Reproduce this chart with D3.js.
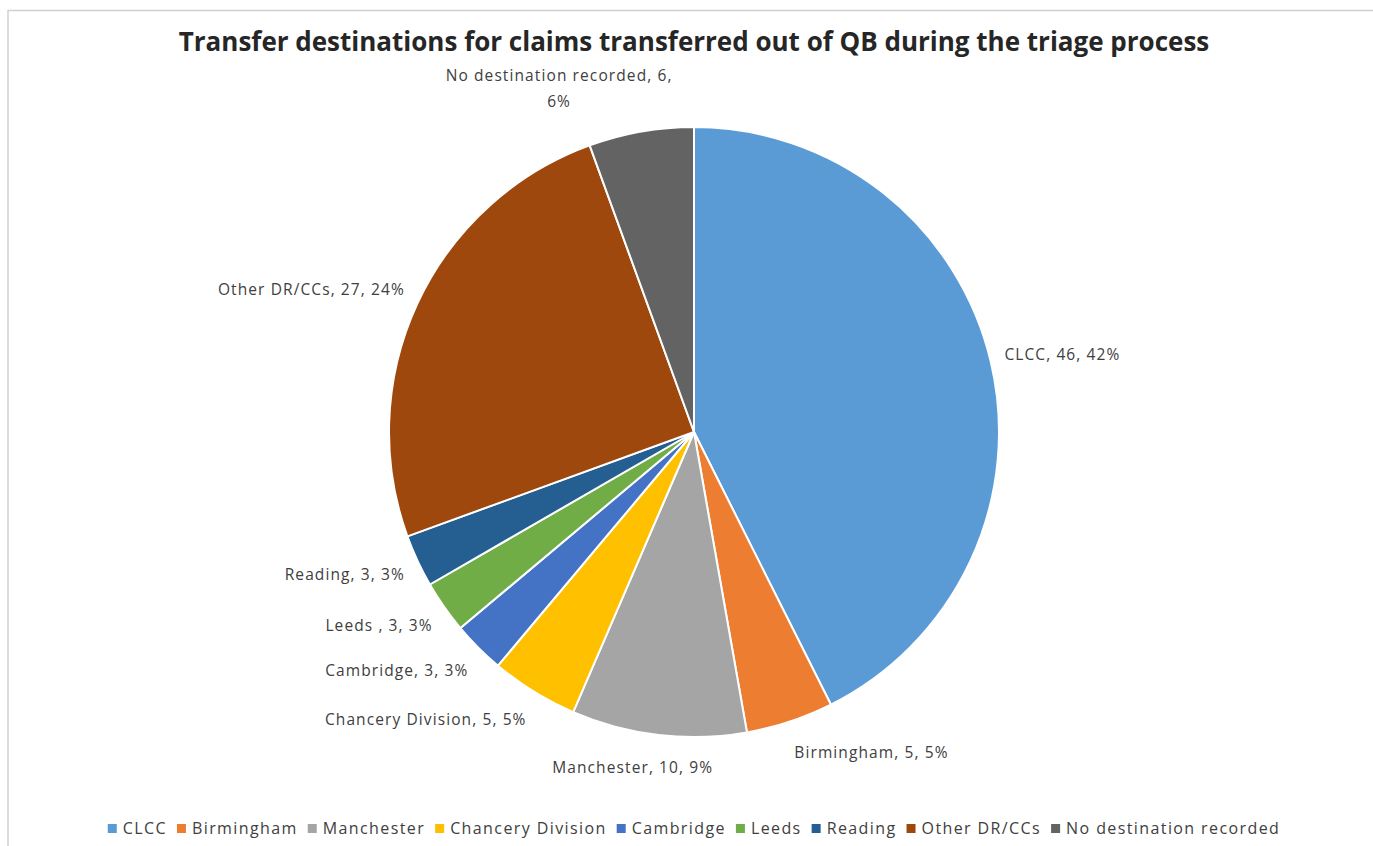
<!doctype html>
<html>
<head>
<meta charset="UTF-8">
<title>Transfer destinations</title>
<script src="https://d3js.org/d3.v7.min.js"></script>
<style>
  body { margin: 0; background: #fff; }
  text { font-family: "Open Sans", sans-serif; fill: #404040; }
</style>
</head>
<body>
<svg id="chart" width="1373" height="846"></svg>
<script>
// data
var categories = ["CLCC", "Birmingham", "Manchester", "Chancery Division", "Cambridge",
                  "Leeds ", "Reading", "Other DR/CCs", "No destination recorded"];
var values = [46, 5, 10, 5, 3, 3, 3, 27, 6];
var percents = ["42%", "5%", "9%", "5%", "3%", "3%", "3%", "24%", "6%"];
var legendNames = ["CLCC", "Birmingham", "Manchester", "Chancery Division", "Cambridge",
                   "Leeds", "Reading", "Other DR/CCs", "No destination recorded"];
var colors = ["#5b9bd5", "#ed7d31", "#a5a5a5", "#ffc000", "#4472c4",
              "#70ad47", "#255e91", "#9e480e", "#636363"];

var svg = d3.select("#chart");
var W = 1373, H = 846;
var cx = 694, cy = 432, R = 305;

// frame (top + left edge only visible)
svg.append("line").attr("x1", 8).attr("y1", 10.5).attr("x2", W).attr("y2", 10.5)
   .attr("stroke", "#d0d0d0").attr("stroke-width", 1.5);
svg.append("line").attr("x1", 8).attr("y1", 10).attr("x2", 8).attr("y2", H)
   .attr("stroke", "#d0d0d0").attr("stroke-width", 1.5);

// title
svg.append("text")
   .attr("x", cx).attr("y", 51)
   .attr("text-anchor", "middle")
   .style("font-size", "26px").style("font-weight", "bold")
   .style("fill", "#262626")
   .text("Transfer destinations for claims transferred out of QB during the triage process");

var data = categories.map(function(c, i){
  return { name: c, value: values[i], pct: percents[i], color: colors[i] };
});

var pie = d3.pie().sort(null).value(function(d){ return d.value; });
var arc = d3.arc().innerRadius(0).outerRadius(R);
var arcs = pie(data);

var g = svg.append("g").attr("transform", "translate(" + cx + "," + cy + ")");

g.selectAll("path")
 .data(arcs)
 .enter()
 .append("path")
 .attr("d", arc)
 .attr("fill", function(d){ return d.data.color; })
 .attr("stroke", "#fff")
 .attr("stroke-width", 2);

// data labels outside end
var labelG = g.append("g");
arcs.forEach(function(a){
  var mid = (a.startAngle + a.endAngle) / 2;
  var s = Math.sin(mid), c = Math.cos(mid);
  var px = (R + 14) * s, py = -(R + 14) * c;
  var anchor = s > 0.2 ? "start" : (s < -0.2 ? "end" : "middle");
  var lines = [a.data.name + ", " + a.data.value + ", " + a.data.pct];
  if (a.data.name.length > 20) {
    lines = [a.data.name + ", " + a.data.value + ",", a.data.pct];
  }
  var lh = 26;
  var boxH = lines.length * lh;
  var top = py - boxH / 2 - c * boxH / 2;
  var dy = c > 0 ? -c * 3 : -c * 6;
  var t = labelG.append("text")
     .attr("text-anchor", anchor)
     .style("font-size", "15.5px")
     .style("letter-spacing", "1.1px");
  lines.forEach(function(l, i){
    t.append("tspan").attr("y", top + lh * i + 18 + dy).text(l);
  });
  // near top / bottom the box is pushed sideways with the slice direction
  var w = t.node().getBBox().width;
  var x = px;
  if (anchor === "middle") x = px + s * w * 1.3;
  t.selectAll("tspan").attr("x", x);
});

// legend
var legend = svg.append("g");
var x = 0;
legendNames.forEach(function(n, i){
  var it = legend.append("g");
  it.append("rect").attr("x", x).attr("y", -10).attr("width", 9).attr("height", 9)
    .attr("fill", colors[i]);
  var tx = it.append("text").attr("x", x + 15).attr("y", 0)
    .style("font-size", "16px").style("letter-spacing", "1.4px").text(n);
  x += 15 + tx.node().getComputedTextLength() + 10;
});
var totalW = x - 10;
legend.attr("transform", "translate(" + (cx - totalW / 2) + ",834)");
</script>
</body>
</html>
